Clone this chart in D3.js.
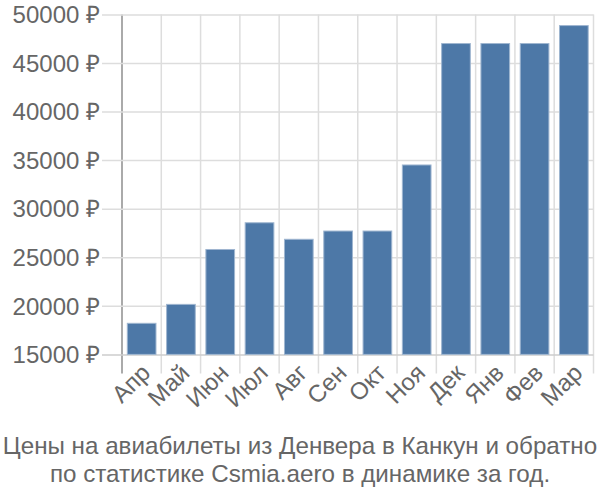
<!DOCTYPE html>
<html><head><meta charset="utf-8">
<script src="https://cdn.jsdelivr.net/npm/d3@7"></script>
<style>body{margin:0;background:#fff}svg{display:block}</style>
</head><body>
<svg id="c" width="600" height="500"></svg>
<script>
const months = ["Апр","Май","Июн","Июл","Авг","Сен","Окт","Ноя","Дек","Янв","Фев","Мар"];
const prices = [18200,20150,25800,28550,26850,27700,27700,34500,47000,47000,47000,48850];
const yTicks = [15000,20000,25000,30000,35000,40000,45000,50000];
const titleLines = ["Цены на авиабилеты из Денвера в Канкун и обратно","по статистике Csmia.aero в динамике за год."];

(function(){
const svg = d3.select("#c");
const font = "'Liberation Sans', Arial, sans-serif";
const L = 122, R = 593.5, T = 14.4, B = 354.4;
const x = d3.scaleBand().domain(months).range([L, R]).paddingInner(0.27).paddingOuter(0.135);
const y = d3.scaleLinear().domain([15000, 50000]).range([B, T]);
const step = x.step();

const g = svg.append("g");
d3.range(months.length + 1).forEach(i => {
  const xx = L + i * step;
  g.append("line").attr("x1", xx).attr("x2", xx).attr("y1", T).attr("y2", B + 19)
    .attr("stroke", i === 0 ? "#aaa" : "#ddd").attr("stroke-width", i === 0 ? 2 : 1.5);
});
const yAxis = d3.axisLeft(y).tickValues(yTicks).tickSize(R - L + 20).tickFormat(d => d + " ₽").tickPadding(2);
const ya = svg.append("g").attr("transform", `translate(${R},0)`).call(yAxis);
ya.select(".domain").remove();
ya.selectAll(".tick line").attr("stroke", d => d === 15000 ? "#ccc" : "#ddd").attr("stroke-width", 1.5);
ya.selectAll(".tick text").attr("fill", "#666").style("font-family", font).style("font-size", "24px").attr("dy", "0.34em");

svg.append("g").selectAll("rect").data(prices).join("rect")
  .attr("x", (d, i) => x(months[i]))
  .attr("width", x.bandwidth())
  .attr("y", d => y(d))
  .attr("height", d => B - y(d))
  .attr("fill", "#4d78a7")
  .attr("stroke", "#9fb6d0").attr("stroke-width", 1);

const xa = svg.append("g").attr("transform", `translate(0,${B})`)
  .call(d3.axisBottom(x).tickSize(0).tickPadding(0));
xa.select(".domain").remove();
xa.selectAll(".tick text")
  .attr("fill", "#666").style("font-family", font).style("font-size", "24px")
  .attr("text-anchor", "end").attr("dy", "0")
  .attr("transform", "translate(10,20) rotate(-45)");

svg.append("g").selectAll("text").data(titleLines).join("text")
  .attr("x", 300).attr("y", (d, i) => 454 + i * 28)
  .attr("text-anchor", "middle").attr("fill", "#666")
  .style("font-family", font).style("font-size", "24.2px")
  .text(d => d);
})();
</script>
</body></html>
